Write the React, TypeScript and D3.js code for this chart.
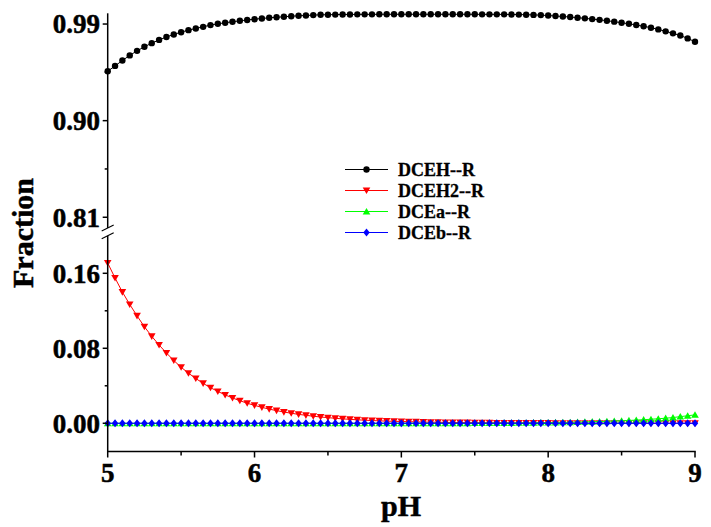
import React from "react";
import * as d3 from "d3";

const pH = [
  5.0, 5.05, 5.1, 5.15, 5.2, 5.25, 5.3, 5.35, 5.4, 5.45,
  5.5, 5.55, 5.6, 5.65, 5.7, 5.75, 5.8, 5.85, 5.9, 5.95,
  6.0, 6.05, 6.1, 6.15, 6.2, 6.25, 6.3, 6.35, 6.4, 6.45,
  6.5, 6.55, 6.6, 6.65, 6.7, 6.75, 6.8, 6.85, 6.9, 6.95,
  7.0, 7.05, 7.1, 7.15, 7.2, 7.25, 7.3, 7.35, 7.4, 7.45,
  7.5, 7.55, 7.6, 7.65, 7.7, 7.75, 7.8, 7.85, 7.9, 7.95,
  8.0, 8.05, 8.1, 8.15, 8.2, 8.25, 8.3, 8.35, 8.4, 8.45,
  8.5, 8.55, 8.6, 8.65, 8.7, 8.75, 8.8, 8.85, 8.9, 8.95,
  9.0,
];

const DCEH = [
  0.946, 0.951, 0.956, 0.9608, 0.965, 0.9688, 0.9722, 0.9752, 0.9779, 0.9803,
  0.9824, 0.9843, 0.9859, 0.9874, 0.989, 0.9902, 0.9912, 0.9921, 0.993, 0.9938,
  0.9945, 0.9952, 0.9958, 0.9963, 0.9968, 0.9973, 0.9977, 0.998, 0.9983, 0.9986,
  0.9987, 0.9988, 0.9989, 0.9989, 0.999, 0.999, 0.999, 0.9991, 0.9991, 0.9991,
  0.9991, 0.9991, 0.9991, 0.9991, 0.9991, 0.9991, 0.9991, 0.9991, 0.9991, 0.9991,
  0.9991, 0.999, 0.999, 0.999, 0.999, 0.9989, 0.9988, 0.9987, 0.9985, 0.9983,
  0.9979, 0.9975, 0.997, 0.9965, 0.9959, 0.9953, 0.9946, 0.9939, 0.9931, 0.9922,
  0.9912, 0.9902, 0.9891, 0.9879, 0.9866, 0.985, 0.9832, 0.9813, 0.9793, 0.9766,
  0.9735,
];

const DCEH2 = [
  0.171, 0.155, 0.14, 0.1268, 0.1146, 0.103, 0.0928, 0.0835, 0.075, 0.067,
  0.0598, 0.0535, 0.0478, 0.0426, 0.038, 0.034, 0.0303, 0.027, 0.0241, 0.0214,
  0.0191, 0.017, 0.0151, 0.0135, 0.012, 0.0107, 0.0095, 0.0085, 0.0075, 0.0067,
  0.006, 0.0053, 0.0047, 0.0042, 0.0037, 0.0033, 0.0029, 0.0026, 0.0023, 0.0021,
  0.0019, 0.0017, 0.0015, 0.0013, 0.0012, 0.0011, 0.0009, 0.0008, 0.0007, 0.0007,
  0.0006, 0.0005, 0.0005, 0.0004, 0.0004, 0.0003, 0.0003, 0.0003, 0.0002, 0.0002,
  0.0002, 0.0001, 0.0001, 0.0001, 0.0001, 0.0001, 0.0001, 0.0001, 0.0001, 0.0001,
  0.0001, 0, 0, 0, 0, 0, 0, 0, 0, 0,
  0,
];

const DCEa = [
  0, 0, 0, 0, 0, 0, 0, 0, 0, 0,
  0, 0, 0, 0, 0, 0, 0, 0, 0, 0,
  0, 0, 0, 0, 0, 0, 0, 0, 0, 0,
  0, 0, 0, 0, 0, 0, 0, 0, 0, 0,
  0.0001, 0.0001, 0.0001, 0.0001, 0.0001, 0.0001, 0.0001, 0.0001, 0.0001, 0.0001,
  0.0002, 0.0002, 0.0003, 0.0003, 0.0004, 0.0004, 0.0005, 0.0005, 0.0006, 0.0007,
  0.0008, 0.0009, 0.001, 0.0011, 0.0013, 0.0015, 0.0017, 0.0019, 0.0021, 0.0024,
  0.0027, 0.003, 0.0034, 0.0038, 0.0043, 0.0048, 0.0054, 0.0061, 0.0071, 0.008,
  0.009,
];

const DCEb = [
  0, 0, 0, 0, 0, 0, 0, 0, 0, 0,
  0, 0, 0, 0, 0, 0, 0, 0, 0, 0,
  0, 0, 0, 0, 0, 0, 0, 0, 0, 0,
  0, 0, 0, 0, 0, 0, 0, 0, 0, 0,
  0, 0, 0, 0, 0, 0, 0, 0, 0, 0,
  0, 0, 0, 0, 0, 0, 0, 0, 0, 0,
  0, 0, 0, 0, 0, 0, 0, 0, 0, 0,
  0, 0, 0, 0, 0, 0, 0, 0, 0, 0,
  0,
];

const xTicks = [5, 6, 7, 8, 9];
const xMinor = [5.5, 6.5, 7.5, 8.5];
const upperTicks = [0.81, 0.9, 0.99];
const upperMinor = [0.855, 0.945];
const lowerTicks = [0.0, 0.08, 0.16];
const lowerMinor = [0.04, 0.12];

const legendNames = ["DCEH--R", "DCEH2--R", "DCEa--R", "DCEb--R"];
const colors = ["#000000", "#ff0000", "#00ff00", "#0000ff"];
const shapes = ["circle", "down", "up", "diamond"];

const FONT = "'Liberation Serif', 'Times New Roman', Times, serif";

function Marker({ shape, x, y, color }: { shape: string; x: number; y: number; color: string }) {
  if (shape === "circle") return <circle cx={x} cy={y} r={3.2} fill={color} />;
  if (shape === "down")
    return <path d={`M${x - 3.8},${y - 3}L${x + 3.8},${y - 3}L${x},${y + 3.6}Z`} fill={color} />;
  if (shape === "up")
    return <path d={`M${x - 3.8},${y + 3}L${x + 3.8},${y + 3}L${x},${y - 3.6}Z`} fill={color} />;
  return <path d={`M${x},${y - 4}L${x + 3.2},${y}L${x},${y + 4}L${x - 3.2},${y}Z`} fill={color} />;
}

export default function App() {
  const x = d3.scaleLinear().domain([5, 9]).range([107.7, 695]);
  const yU = d3.scaleLinear().domain([0.8, 1.0]).range([228, 13.3]);
  const yL = d3.scaleLinear().domain([-0.03, 0.2]).range([451.4, 235.8]);
  const axisX = 107.7;
  const axisY = 451.5;

  const series = [
    { name: legendNames[0], vals: DCEH, y: yU },
    { name: legendNames[1], vals: DCEH2, y: yL },
    { name: legendNames[2], vals: DCEa, y: yL },
    { name: legendNames[3], vals: DCEb, y: yL },
  ];

  const fmt = d3.format(".2f");

  return (
    <svg
      width={711}
      height={527}
      style={{ position: "absolute", left: 0, top: 0, background: "#fff", fontFamily: FONT }}
    >
      <rect width={711} height={527} fill="#fff" />
      {/* series */}
      {series.map((s, si) => {
        const line = d3
          .line<number>()
          .x((_, i) => x(pH[i]))
          .y((v) => s.y(v));
        return (
          <g key={s.name}>
            <path d={line(s.vals) || ""} fill="none" stroke={colors[si]} strokeWidth={1} />
            {s.vals.map((v, i) => (
              <Marker key={i} shape={shapes[si]} x={x(pH[i])} y={s.y(v)} color={colors[si]} />
            ))}
          </g>
        );
      })}

      {/* left axis: upper & lower segments */}
      <g stroke="#000" strokeWidth={1.5}>
        <line x1={axisX} x2={axisX} y1={yU.range()[1]} y2={yU.range()[0]} />
        <line x1={axisX} x2={axisX} y1={yL.range()[1]} y2={axisY} />
        {upperTicks.map((t) => (
          <line key={t} x1={axisX - 5} x2={axisX} y1={yU(t)} y2={yU(t)} />
        ))}
        {upperMinor.map((t) => (
          <line key={t} x1={axisX - 3} x2={axisX} y1={yU(t)} y2={yU(t)} />
        ))}
        {lowerTicks.map((t) => (
          <line key={t} x1={axisX - 5} x2={axisX} y1={yL(t)} y2={yL(t)} />
        ))}
        {lowerMinor.map((t) => (
          <line key={t} x1={axisX - 3} x2={axisX} y1={yL(t)} y2={yL(t)} />
        ))}
        {/* break marks */}
        <line x1={axisX - 6} x2={axisX + 6} y1={yU.range()[0] + 3} y2={yU.range()[0] - 3} strokeWidth={1.2} />
        <line x1={axisX - 6} x2={axisX + 6} y1={yL.range()[1] + 3} y2={yL.range()[1] - 3} strokeWidth={1.2} />
      </g>

      {/* bottom axis */}
      <g stroke="#000" strokeWidth={1.5}>
        <line x1={axisX - 0.75} x2={x(9) + 0.75} y1={axisY} y2={axisY} />
        {xTicks.map((t) => (
          <line key={t} x1={x(t)} x2={x(t)} y1={axisY} y2={axisY + 6} />
        ))}
        {xMinor.map((t) => (
          <line key={t} x1={x(t)} x2={x(t)} y1={axisY} y2={axisY + 4} />
        ))}
      </g>

      {/* tick labels */}
      <g fontWeight="bold" fontSize={27} fill="#000" stroke="#000" strokeWidth={0.5}>
        {upperTicks.map((t) => (
          <text key={t} x={100} y={yU(t)} dy="0.35em" textAnchor="end">
            {fmt(t)}
          </text>
        ))}
        {lowerTicks.map((t) => (
          <text key={t} x={100} y={yL(t)} dy="0.35em" textAnchor="end">
            {fmt(t)}
          </text>
        ))}
        {xTicks.map((t) => (
          <text key={t} x={x(t)} y={482} textAnchor="middle">
            {t}
          </text>
        ))}
      </g>

      {/* axis titles */}
      <g fontWeight="bold" fontSize={30} fill="#000" stroke="#000" strokeWidth={0.5}>
        <text x={401} y={516} textAnchor="middle">
          pH
        </text>
        <text transform={`translate(33,233) rotate(-90)`} textAnchor="middle">
          Fraction
        </text>
      </g>

      {/* legend */}
      <g>
        {legendNames.map((n, i) => {
          const ly = 169.5 + i * 21;
          return (
            <g key={n}>
              <line x1={345} x2={388} y1={ly} y2={ly} stroke={colors[i]} strokeWidth={1} />
              <Marker shape={shapes[i]} x={366.5} y={ly} color={colors[i]} />
              <text
                x={398}
                y={ly}
                dy="0.35em"
                fontWeight="bold"
                fontSize={18}
                stroke="#000"
                strokeWidth={0.3}
              >
                {n}
              </text>
            </g>
          );
        })}
      </g>
    </svg>
  );
}
